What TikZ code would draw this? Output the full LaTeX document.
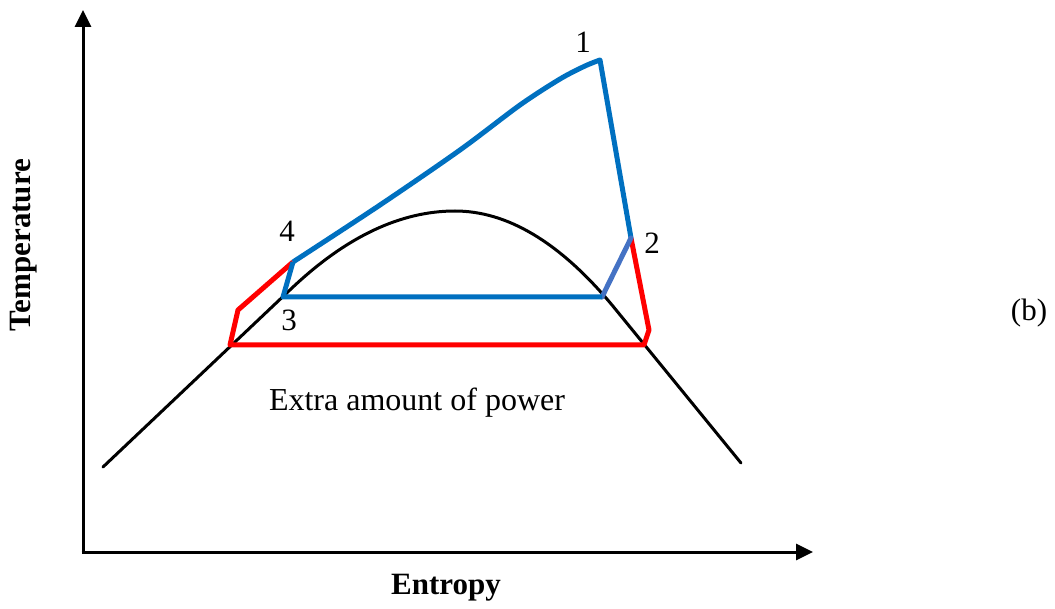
\documentclass[tikz,border=0pt]{standalone}
\usepackage{fontspec}
\setmainfont{Liberation Serif}
\usetikzlibrary{arrows.meta}
\definecolor{cycblue}{HTML}{0070C0}
\definecolor{cycred}{HTML}{FF0000}
\definecolor{steel}{HTML}{4472C4}
\tikzset{
  axis/.style={line width=3pt,-{Triangle[length=17pt,width=16pt]}},
  dome/.style={line width=3pt,black,line cap=round},
  bluecyc/.style={line width=5pt,cycblue,line join=round},
  redcyc/.style={line width=5pt,cycred,line join=round},
  lbl/.style={font=\fontsize{31}{37}\selectfont,inner sep=0pt},
  axlbl/.style={font=\fontsize{31}{37}\selectfont\bfseries,inner sep=0pt}
}
\begin{document}
\begin{tikzpicture}[x=1pt,y=-1pt]
\useasboundingbox (0,0) rectangle (1055,609);
% axes
\coordinate (O) at (83,552);
\coordinate (Ytip) at (83,10);
\coordinate (Xtip) at (813,552);
\draw[axis] (O) -- (Ytip);
\draw[axis] ([xshift=-1.5pt]O) -- (Xtip);
% saturation dome
\coordinate (dL) at (103,467);
\coordinate (dTL) at (292,288);
\coordinate (dTop) at (455,211);
\coordinate (dTR) at (612,305);
\coordinate (dR) at (741,463);
\draw[dome] (dL) -- (dTL) .. controls (346.3,236.7) and (400.7,211) .. (dTop)
  .. controls (507.3,211) and (559.7,242.3) .. (dTR) -- (dR);
% state points
\coordinate (p1) at (600,60);
\coordinate (p2) at (631,238);
\coordinate (p3) at (283,297);
\coordinate (p4) at (293,262);
\coordinate (b3) at (602,297);
\coordinate (r1) at (238,310);
\coordinate (r2) at (230,345);
\coordinate (r3) at (644,345);
\coordinate (r4) at (649,330);
% red cycle
\draw[redcyc] (p4) -- (r1) -- (r2) -- (r3) -- (r4) -- (p2);
% blue cycle
\draw[bluecyc] plot[smooth,tension=0.5] coordinates {(293,262) (380,205) (460,150) (520,105) (560,79) (585,66) (600,60)} -- (p2);
\draw[line width=5pt,steel,line cap=round] (p2) -- (b3);
\draw[bluecyc] (b3) -- (p3) -- (p4);
% labels
\node[lbl] (l1) at (583,42) {1};
\node[lbl] (l2) at (652,243) {2};
\node[lbl] (l3) at (289,320) {3};
\node[lbl] (l4) at (287,231) {4};
\node[lbl] (lb) at (1029,313) {(b)};
\node[lbl,font=\fontsize{32}{38}\selectfont] (lx) at (417,403) {Extra amount of power};
\node[axlbl] (ent) at (446,588) {Entropy};
\node[axlbl,rotate=90] (tmp) at (24,245) {Temperature};
\end{tikzpicture}
\end{document}
